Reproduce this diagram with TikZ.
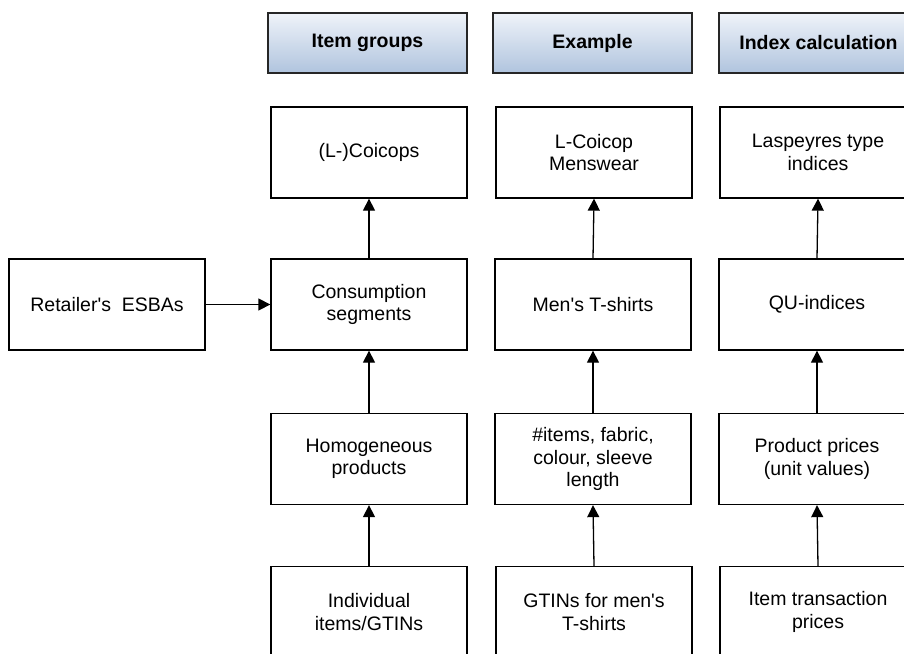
\documentclass[tikz,border=0pt]{standalone}
\usepackage{fontspec}
\setmainfont{Liberation Sans}[Ligatures=TeXOff]
\usetikzlibrary{arrows.meta}
\definecolor{hdtop}{HTML}{EFF3F9}
\definecolor{hdbot}{HTML}{B0C4DE}
\begin{document}
\begin{tikzpicture}[x=1pt,y=-1pt,
  box/.style={draw=black, line width=1.3pt, minimum width=196pt, minimum height=91pt,
    align=center, inner sep=0pt, font=\fontsize{19.5}{22.5}\selectfont},
  hdr/.style={draw=black!85, line width=1.3pt, minimum width=199pt, minimum height=60pt,
    top color=hdtop, bottom color=hdbot, inner sep=0pt,
    font=\bfseries\fontsize{19.5}{22.5}\selectfont},
  arr/.style={-{Triangle[length=12pt,width=12pt]}, line width=1.3pt}]
\clip (0,0) rectangle (904,653);
% headers
\node[hdr] (h1) at (367.5,43) {Item groups};
\node[hdr] (h2) at (592.5,43) {Example};
\node[hdr] (h3) at (818.5,43) {Index calculation};
% column 1
\node[box] (c1) at (369,152.5) {(L-)Coicops};
\node[box] (c2) at (369,304.5) {Consumption\\segments};
\node[box] (c3) at (369,459) {Homogeneous\\products};
\node[box] (c4) at (369,612) {Individual\\items/GTINs};
% column 2
\node[box] (e1) at (594,152.5) {L-Coicop\\Menswear};
\node[box] (e2) at (593,304.5) {Men's T-shirts};
\node[box] (e3) at (593,459) {\#items, fabric,\\colour, sleeve\\length};
\node[box] (e4) at (594,612) {GTINs for men's\\T-shirts};
% column 3
\node[box] (i1) at (818,152.5) {Laspeyres type\\indices};
\node[box] (i2) at (817,304.5) {QU-indices};
\node[box] (i3) at (817,459) {Product prices\\(unit values)};
\node[box] (i4) at (818,612) {Item transaction\\prices};
% retailer
\node[box] (r) at (107,304.5) {Retailer's \ ESBAs};
% arrows
\draw[arr] (r.east) -- (c2.west);
\draw[arr] (c2.north) -- (c1.south);
\draw[arr] (c3.north) -- (c2.south);
\draw[arr] (c4.north) -- (c3.south);
\draw[arr] (e2.north) -- (e1.south);
\draw[arr] (e3.north) -- (e2.south);
\draw[arr] (e4.north) -- (e3.south);
\draw[arr] (i2.north) -- (i1.south);
\draw[arr] (i3.north) -- (i2.south);
\draw[arr] (i4.north) -- (i3.south);
\end{tikzpicture}
\end{document}
